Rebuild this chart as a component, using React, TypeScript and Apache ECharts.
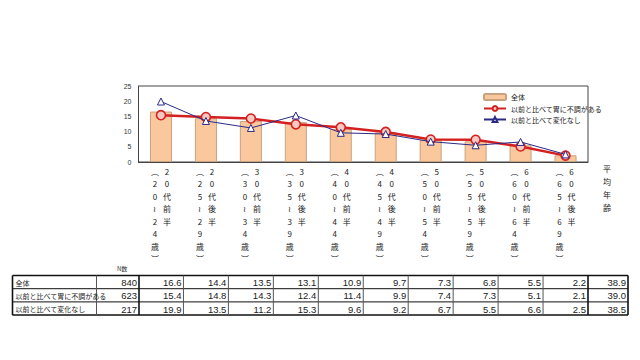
import React, { useEffect, useRef } from "react";
import * as echarts from "echarts";

const ageGroups = ["20代前半", "20代後半", "30代前半", "30代後半", "40代前半", "40代後半", "50代前半", "50代後半", "60代前半", "60代後半"];
const ageRanges = ["20～24歳", "25～29歳", "30～34歳", "35～39歳", "40～44歳", "45～49歳", "50～54歳", "55～59歳", "60～64歳", "65～69歳"];
const seriesNames = ["全体", "以前と比べて胃に不調がある", "以前と比べて変化なし"];
const overall = [16.6, 14.4, 13.5, 13.1, 10.9, 9.7, 7.3, 6.8, 5.5, 2.2];
const discomfort = [15.4, 14.8, 14.3, 12.4, 11.4, 9.9, 7.4, 7.3, 5.1, 2.1];
const noChange = [19.9, 13.5, 11.2, 15.3, 9.6, 9.2, 6.7, 5.5, 6.6, 2.5];
const sampleSizes = [840, 623, 217];
const averageAges = [38.9, 39.0, 38.5];
const yTicks = [0, 5, 10, 15, 20, 25];

const GRID_L = 138.5;
const GRID_R = 588;
const GRID_T = 86;
const GRID_B = 162;

const JP = '"Noto Sans CJK JP", sans-serif';
const NUM = '"Liberation Sans", Arial, sans-serif';

function labelFor(idx: number): string {
  const right = ageGroups[idx].split("");
  const left = ["︵", ...ageRanges[idx].replace("～", "≀").split(""), "︶"];
  const lines: string[] = [];
  for (let i = 0; i < left.length; i++) {
    const r = right[i] ?? " ";
    lines.push(`{a|${left[i]}}{b|${r}}`);
  }
  return lines.join("\n");
}

export default function App() {
  const ref = useRef<HTMLDivElement>(null);
  useEffect(() => {
    if (!ref.current) return;
    const chart = echarts.init(ref.current, undefined, { renderer: "svg" });

    const rowsData = [overall, discomfort, noChange];
    const tableTop = 275.5;
    const rowH = 13.2;
    const colX: number[] = [12.5, 96.5, 139];
    const catW = (GRID_R - GRID_L) / ageGroups.length;
    for (let k = 1; k <= ageGroups.length; k++) colX.push(GRID_L + catW * k);
    colX.push(628);
    const tableBottom = tableTop + rowH * rowsData.length;
    const graphics: any[] = [];
    // horizontal lines
    for (let r = 0; r <= rowsData.length; r++) {
      const y = tableTop + rowH * r;
      graphics.push({ type: "line", shape: { x1: colX[0], y1: y, x2: colX[colX.length - 1], y2: y }, style: { stroke: "#111", lineWidth: r === 0 || r === rowsData.length ? 1.5 : 1 } });
    }
    colX.forEach((x, i) => {
      const thick = i === 0 || i === 2 || i === colX.length - 2 || i === colX.length - 1;
      graphics.push({ type: "line", shape: { x1: x, y1: tableTop, x2: x, y2: tableBottom }, style: { stroke: thick ? "#111" : "#555", lineWidth: thick ? 1.6 : 1 } });
    });
    graphics.push({ type: "text", x: 117, y: 268, style: { text: "N数", font: `6px ${JP}`, fill: "#333", verticalAlign: "middle" } });
    rowsData.forEach((vals, r) => {
      const cy = tableTop + rowH * r + rowH / 2 + 0.5;
      graphics.push({ type: "text", x: colX[0] + 3, y: cy, style: { text: seriesNames[r], font: `7px ${JP}`, fill: "#222", verticalAlign: "middle" } });
      graphics.push({ type: "text", x: colX[2] - 2, y: cy, style: { text: String(sampleSizes[r]), font: `9.5px ${NUM}`, fill: "#222", align: "right", verticalAlign: "middle" } });
      vals.forEach((v, c) => {
        graphics.push({ type: "text", x: colX[3 + c] - 2, y: cy, style: { text: v.toFixed(1), font: `9.5px ${NUM}`, fill: "#222", align: "right", verticalAlign: "middle" } });
      });
      graphics.push({ type: "text", x: colX[colX.length - 1] - 2, y: cy, style: { text: averageAges[r].toFixed(1), font: `9.5px ${NUM}`, fill: "#222", align: "right", verticalAlign: "middle" } });
    });
    graphics.push({ type: "text", x: 607, y: 162, style: { text: "平\n均\n年\n齢", font: `8px ${JP}`, lineHeight: 13, fill: "#222", align: "center" } });

    chart.setOption({
      animation: false,
      backgroundColor: "#fff",
      grid: { left: GRID_L, right: 640 - GRID_R, top: GRID_T, bottom: 360 - GRID_B, show: true, borderColor: "#444", borderWidth: 1 },
      legend: {
        orient: "vertical",
        left: 478,
        top: 88,
        itemWidth: 22,
        itemHeight: 6,
        itemGap: 4,
        textStyle: { fontSize: 7, fontFamily: JP, color: "#222" },
        data: seriesNames,
      },
      xAxis: {
        type: "category",
        data: ageGroups,
        axisLine: { lineStyle: { color: "#444" } },
        axisTick: { show: false },
        axisLabel: {
          interval: 0,
          margin: 3,
          formatter: (_v: string, idx: number) => labelFor(idx),
          rich: {
            a: { width: 12, align: "center", fontSize: 8, lineHeight: 12.5, fontFamily: JP, color: "#222" },
            b: { width: 12, align: "center", fontSize: 8, lineHeight: 12.5, fontFamily: JP, color: "#222" },
          },
        },
      },
      yAxis: {
        type: "value",
        min: yTicks[0],
        max: yTicks[yTicks.length - 1],
        interval: 5,
        splitLine: { show: false },
        axisLine: { show: true, lineStyle: { color: "#444" } },
        axisTick: { show: false },
        axisLabel: { fontSize: 7, fontFamily: NUM, color: "#333", margin: 7 },
      },
      series: [
        {
          name: seriesNames[0],
          type: "bar",
          data: overall,
          barWidth: "49%",
          itemStyle: { color: "#FAC89C", borderColor: "#C9A27E", borderWidth: 1 },
        },
        {
          name: seriesNames[1],
          type: "line",
          data: discomfort,
          symbol: "circle",
          symbolSize: 9,
          lineStyle: { color: "#D42020", width: 2.5 },
          itemStyle: { color: "#F7C9C0", borderColor: "#D42020", borderWidth: 1.6 },
          z: 3,
        },
        {
          name: seriesNames[2],
          type: "line",
          data: noChange,
          symbol: "triangle",
          symbolSize: 7,
          lineStyle: { color: "#2A2A86", width: 1 },
          itemStyle: { color: "#fff", borderColor: "#2A2A86", borderWidth: 1 },
          z: 4,
        },
      ],
      graphic: graphics,
    });
    return () => chart.dispose();
  }, []);
  return <div ref={ref} style={{ position: "fixed", left: 0, top: 0, width: 640, height: 360 }} />;
}
